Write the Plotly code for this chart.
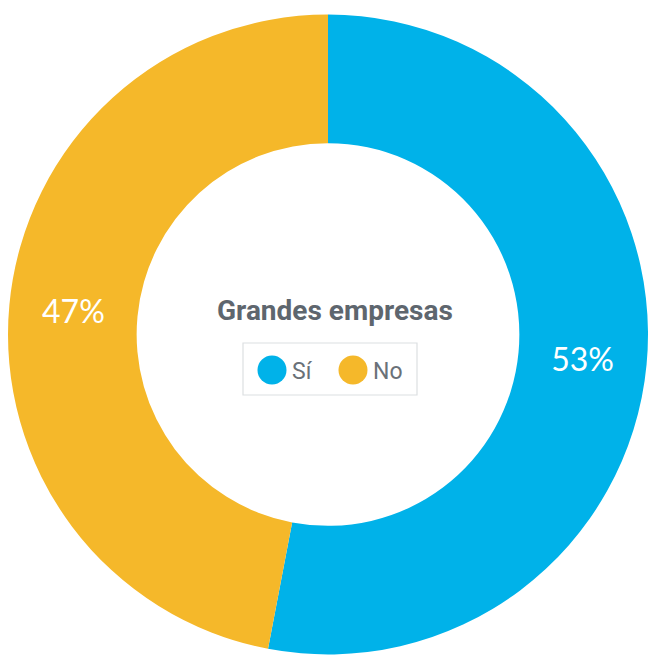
import plotly.graph_objects as go

labels = ["Sí", "No"]
values = [53, 47]
colors = ["#00B2E9", "#F5B82A"]
title_text = "Grandes empresas"

W, H = 648, 655

def px(x):
    return x / W

def py(y):
    return 1 - y / H

fig = go.Figure()
fig.add_trace(go.Pie(
    labels=labels,
    values=values,
    hole=0.598,
    sort=False,
    direction="clockwise",
    rotation=0,
    marker=dict(colors=colors, line=dict(width=0)),
    texttemplate="%{value}%",
    textposition="inside",
    insidetextorientation="horizontal",
    insidetextfont=dict(family="Lato, sans-serif", size=32, color="white"),
    hoverinfo="label+percent",
    showlegend=False,
    domain=dict(x=[px(8), 1], y=[0, py(14)]),
))

# Centre title
fig.add_annotation(
    x=px(335), y=py(310), xref="paper", yref="paper",
    text="<b>" + title_text + "</b>", showarrow=False,
    font=dict(family="Roboto, sans-serif", size=28, color="#5E666E"),
    xanchor="center", yanchor="middle",
)

# Legend box
fig.add_shape(type="rect", xref="paper", yref="paper",
              x0=px(243), x1=px(417), y0=py(395), y1=py(343),
              line=dict(color="#DCDFE2", width=1.2), fillcolor="white", layer="below")

leg_x = [272, 353]
for i, lab in enumerate(labels):
    cx, cy, r = leg_x[i], 370, 14.5
    fig.add_shape(type="circle", xref="paper", yref="paper",
                  x0=px(cx - r), x1=px(cx + r), y0=py(cy + r), y1=py(cy - r),
                  fillcolor=colors[i], line=dict(width=0))
    fig.add_annotation(
        x=px(cx + r + 3), y=py(cy + 1), xref="paper", yref="paper",
        text=lab, showarrow=False, xanchor="left", yanchor="middle",
        font=dict(family="Roboto, sans-serif", size=23, color="#6A7178"),
    )

fig.update_layout(
    width=W, height=H,
    margin=dict(l=0, r=0, t=0, b=0),
    paper_bgcolor="white",
    plot_bgcolor="white",
)

fig.write_html("out.html", config={"displayModeBar": False},
               post_script="document.body.style.margin='0';")
